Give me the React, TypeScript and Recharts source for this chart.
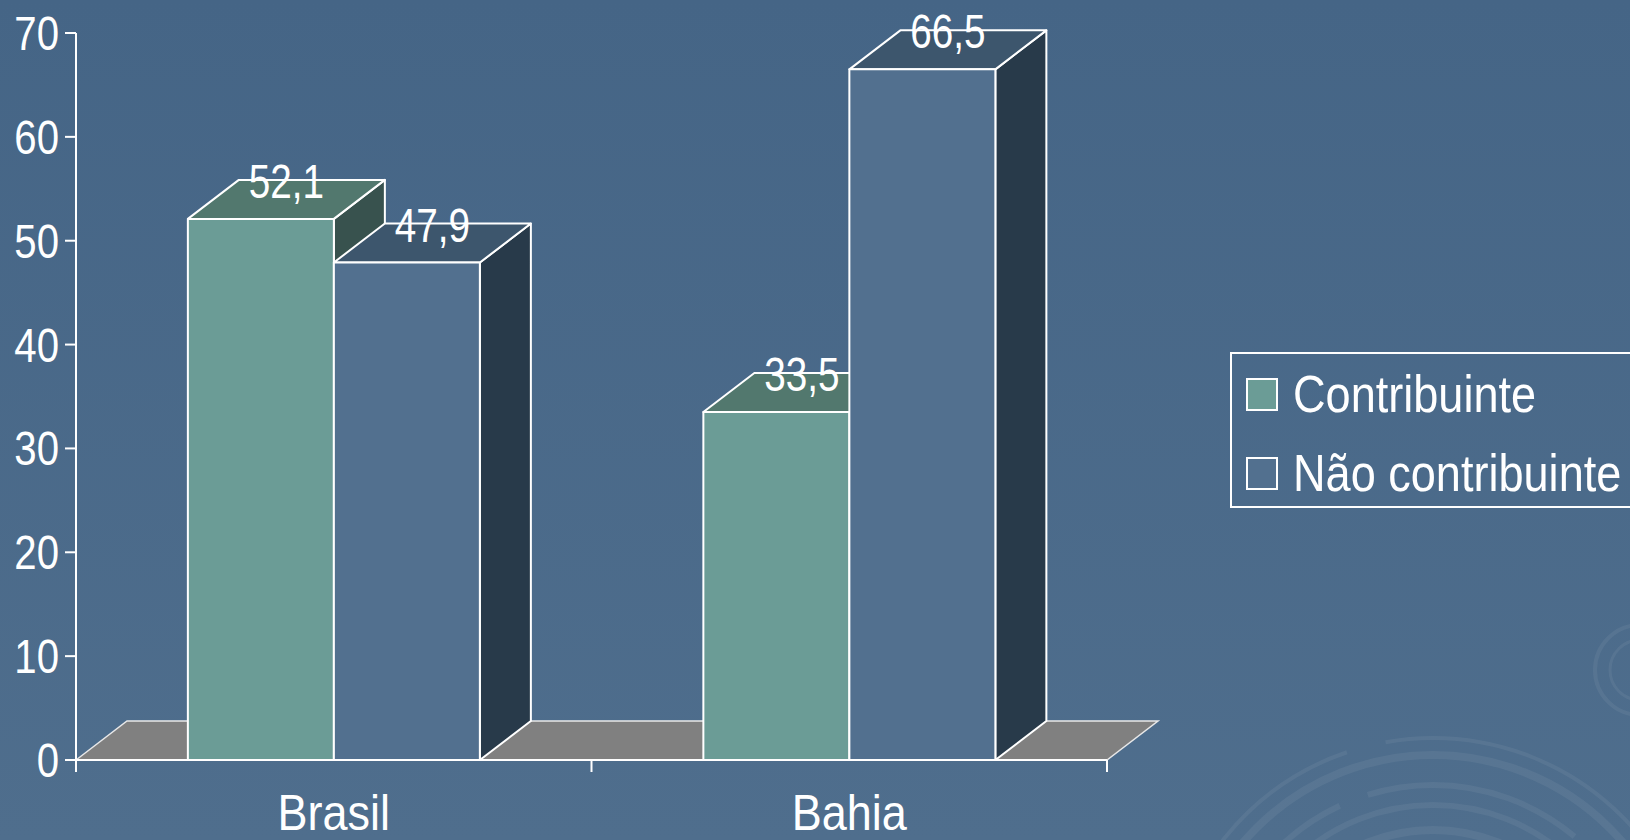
import React from "react";
import {
  BarChart,
  Bar,
  XAxis,
  YAxis,
  Legend,
  LabelList,
  ReferenceArea,
} from "recharts";

const CATEGORIES = ["Brasil", "Bahia"];
const CONTRIBUINTE = [52.1, 33.5];
const NAO_CONTRIBUINTE = [47.9, 66.5];
const Y_TICKS = [0, 10, 20, 30, 40, 50, 60, 70];
const SERIES_NAMES = ["Contribuinte", "Não contribuinte"];

const data = CATEGORIES.map((name, i) => ({
  name,
  contribuinte: CONTRIBUINTE[i],
  nao: NAO_CONTRIBUINTE[i],
}));

const W = 1630;
const H = 840;
const MARGIN = { top: 33, right: 523, bottom: 0, left: 0 };
const Y_AXIS_W = 76;
const X_AXIS_H = 80;
const PLOT_W = W - MARGIN.left - MARGIN.right - Y_AXIS_W;
const HALF_BAND = PLOT_W / CATEGORIES.length / 2;

// 3d depth offset
const DX = 51;
const DY = 39;

// no narrow font installed -> squeeze Liberation Sans horizontally
const FONT = "'Liberation Sans', Arial, sans-serif";
const BG = "#476788";

const GREEN = { front: "#6b9c96", top: "#52786e", side: "#38524e" };
const BLUE = { front: "#52708f", top: "#3d566d", side: "#283a4a" };

const NarrowText = ({ x, y, sx, size, anchor, children }: any) => (
  <text
    transform={`translate(${x},${y}) scale(${sx},1)`}
    x={0}
    y={0}
    textAnchor={anchor}
    fill="#fff"
    fontSize={size}
    fontFamily={FONT}
  >
    {children}
  </text>
);

const Box3D = (props: any, c: { front: string; top: string; side: string }) => {
  const { x, y, width, height } = props;
  if (width == null || height == null) return null;
  const x2 = x + width;
  const yb = y + height;
  return (
    <g stroke="#fff" strokeWidth={2} strokeLinejoin="round">
      <polygon
        points={`${x2},${y} ${x2 + DX},${y - DY} ${x2 + DX},${yb - DY} ${x2},${yb}`}
        fill={c.side}
      />
      <polygon
        points={`${x},${y} ${x + DX},${y - DY} ${x2 + DX},${y - DY} ${x2},${y}`}
        fill={c.top}
      />
      <rect x={x} y={y} width={width} height={height} fill={c.front} />
    </g>
  );
};

const Floor = (props: any) => {
  const { x, y, width, height } = props;
  const yb = y + height;
  return (
    <polygon
      points={`${x},${yb} ${x + DX},${yb - DY} ${x + width + DX},${yb - DY} ${x + width},${yb}`}
      fill="#808080"
      stroke="#e8e8e8"
      strokeWidth={1.5}
    />
  );
};

const ValueLabel = (props: any) => {
  const { x, y, width, value } = props;
  return (
    <NarrowText x={x + width / 2 + DX / 2} y={y - 21} sx={0.79} size={49} anchor="middle">
      {Number(value).toFixed(1).replace(".", ",")}
    </NarrowText>
  );
};

const ValueTick = (props: any) => {
  const { x, y, payload } = props;
  return (
    <NarrowText x={x} y={y + 17} sx={0.82} size={49} anchor="end">
      {payload.value}
    </NarrowText>
  );
};

const CategoryTick = (props: any) => {
  const { x, y, payload, index } = props;
  const last = index === CATEGORIES.length - 1;
  return (
    <g>
      <line x1={x - HALF_BAND} x2={x - HALF_BAND} y1={y} y2={y + 12} stroke="#fff" strokeWidth={2} />
      {last && (
        <line x1={x + HALF_BAND} x2={x + HALF_BAND} y1={y} y2={y + 12} stroke="#fff" strokeWidth={2} />
      )}
      <NarrowText x={x} y={y + 70} sx={0.9} size={50} anchor="middle">
        {payload.value}
      </NarrowText>
    </g>
  );
};

const LegendBox = () => {
  const colors = [GREEN.front, BLUE.front];
  return (
    <div
      style={{
        border: "2px solid #fff",
        width: 420,
        height: 152,
        position: "relative",
        fontFamily: FONT,
        color: "#fff",
      }}
    >
      {SERIES_NAMES.map((name, i) => (
        <div
          key={name}
          style={{
            position: "absolute",
            left: 14,
            top: 14 + i * 79,
            height: 52,
            display: "flex",
            alignItems: "center",
            gap: 15,
          }}
        >
          <div
            style={{
              width: 28,
              height: 29,
              background: colors[i],
              border: "2px solid #fff",
              flex: "none",
            }}
          />
          <span
            style={{
              fontSize: 52,
              lineHeight: "52px",
              whiteSpace: "nowrap",
              display: "inline-block",
              transform: "scaleX(0.867)",
              transformOrigin: "left center",
            }}
          >
            {name}
          </span>
        </div>
      ))}
    </div>
  );
};

const Swirl = () => (
  <svg width={W} height={H} style={{ position: "absolute", left: 0, top: 0 }}>
    <defs>
      <linearGradient id="bg" x1="0" y1="0" x2="0" y2="1">
        <stop offset="0" stopColor="#456586" />
        <stop offset="1" stopColor="#4f6e8d" />
      </linearGradient>
    </defs>
    <rect width={W} height={H} fill="url(#bg)" />
    <g fill="none" stroke="#ffffff" strokeOpacity={0.06}>
      <circle cx={1433} cy={1005} r={267} strokeWidth={4} strokeDasharray="300 40 500 30" />
      <circle cx={1433} cy={1005} r={250} strokeWidth={8} />
      <circle cx={1433} cy={1005} r={220} strokeWidth={6} strokeDasharray="120 30 220 40" />
      <circle cx={1433} cy={1005} r={200} strokeWidth={6} />
      <circle cx={1433} cy={1005} r={175} strokeWidth={8} />
      <circle cx={1640} cy={670} r={45} strokeWidth={4} />
      <circle cx={1640} cy={670} r={30} strokeWidth={3} />
    </g>
  </svg>
);

export default function App() {
  return (
    <div
      style={{
        position: "absolute",
        left: 0,
        top: 0,
        width: W,
        height: H,
        overflow: "hidden",
        background: BG,
      }}
    >
      <Swirl />
      <div style={{ position: "absolute", left: 0, top: 0 }}>
        <BarChart
          width={W}
          height={H}
          data={data}
          margin={MARGIN}
          barCategoryGap="21.7%"
          barGap={0}
        >
          <ReferenceArea y1={0} y2={1} shape={Floor} ifOverflow="visible" />
          <XAxis
            dataKey="name"
            height={X_AXIS_H}
            axisLine={{ stroke: "#fff", strokeWidth: 2 }}
            tickLine={false}
            tickSize={0}
            tickMargin={0}
            tick={CategoryTick}
            interval={0}
          />
          <YAxis
            width={Y_AXIS_W}
            domain={[0, 70]}
            ticks={Y_TICKS}
            interval={0}
            axisLine={{ stroke: "#fff", strokeWidth: 2 }}
            tickLine={{ stroke: "#fff", strokeWidth: 2 }}
            tickSize={11}
            tickMargin={6}
            tick={ValueTick}
          />
          <Legend
            layout="vertical"
            align="center"
            verticalAlign="middle"
            wrapperStyle={{ left: 1230, top: 352, width: 420 }}
            content={LegendBox}
          />
          <Bar
            dataKey="contribuinte"
            name={SERIES_NAMES[0]}
            fill={GREEN.front}
            isAnimationActive={false}
            shape={(p: any) => Box3D(p, GREEN)}
          >
            <LabelList dataKey="contribuinte" content={ValueLabel} />
          </Bar>
          <Bar
            dataKey="nao"
            name={SERIES_NAMES[1]}
            fill={BLUE.front}
            isAnimationActive={false}
            shape={(p: any) => Box3D(p, BLUE)}
          >
            <LabelList dataKey="nao" content={ValueLabel} />
          </Bar>
        </BarChart>
      </div>
    </div>
  );
}
